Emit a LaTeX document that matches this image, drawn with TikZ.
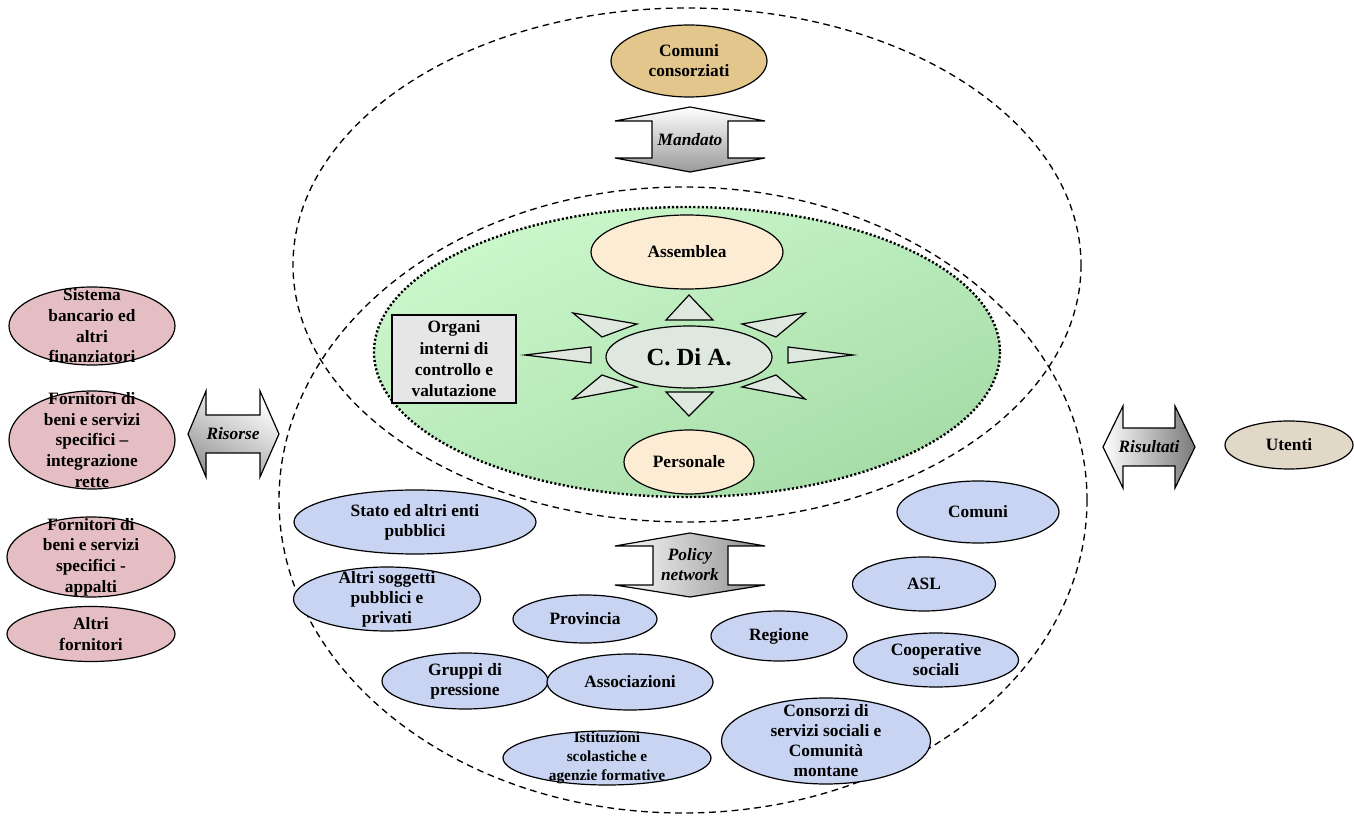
\documentclass[tikz,border=0pt]{standalone}
\usepackage{fontspec}
\setmainfont{Liberation Serif}
\usetikzlibrary{shapes.geometric}

\definecolor{pinkfill}{RGB}{229,190,195}
\definecolor{bluefill}{RGB}{200,212,242}
\definecolor{tanfill}{RGB}{226,198,140}
\definecolor{peachfill}{RGB}{253,236,212}
\definecolor{cdafill}{RGB}{222,232,222}
\definecolor{boxfill}{RGB}{230,230,230}
\definecolor{utfill}{RGB}{226,216,200}
\definecolor{grnlt}{RGB}{204,248,204}
\definecolor{grndk}{RGB}{166,220,168}

\tikzset{
  blob/.style={ellipse, draw, line width=0.9pt, inner sep=0pt},
  sz/.style 2 args={minimum width=#1*0.75pt, minimum height=#2*0.75pt},
  txt/.style={font=\bfseries\fontsize{13}{15}\selectfont, align=center, inner sep=0pt},
  pinktxt/.style={font=\bfseries\fontsize{13}{15.5}\selectfont, align=center, inner sep=0pt},
  arrlbl/.style={font=\bfseries\itshape\fontsize{13}{15}\selectfont, align=center, inner sep=0pt},
  ring/.style={draw, line width=1pt, dash pattern=on 5pt off 3.5pt},
  ray/.style={draw, line width=0.9pt, fill=cdafill},
  blockarr/.style={draw, line width=0.9pt}
}

\begin{document}
\begin{tikzpicture}[x=0.75pt, y=-0.75pt]
  \useasboundingbox (0,0) rectangle (1354,816);

  % the two dashed areas
  \draw[ring] (687,265) ellipse [x radius=394, y radius=257];
  \draw[ring] (683,500) ellipse [x radius=404, y radius=313];

  % green core
  \draw[line width=1.8pt, dash pattern=on 1.6pt off 1.6pt, top color=grnlt, bottom color=grndk, shading angle=25]
    (687,352) ellipse [x radius=313, y radius=145];

  % top: mandate
  \node[blob, fill=tanfill, sz={156}{72}] (comcons) at (689,61) {};
  \node[txt] (comcons-t) at (comcons) {Comuni\\consorziati};
  \draw[blockarr, top color=white, bottom color=gray!80]
    (690,107) -- (765,121) -- (728,121) -- (728,158) -- (765,158) -- (690,172)
    -- (615,158) -- (652,158) -- (652,121) -- (615,121) -- cycle;
  \node[arrlbl] (mandato) at (690,140) {Mandato};

  % governing bodies
  \node[blob, fill=peachfill, sz={192}{74}] (assemblea) at (687,252) {};
  \node[txt] (assemblea-t) at (assemblea) {Assemblea};
  \node[blob, fill=peachfill, sz={130}{64}] (personale) at (689,462) {};
  \node[txt] (personale-t) at (personale) {Personale};
  \node[draw, line width=1.5pt, fill=boxfill, sz={124}{88}, txt, font=\bfseries\fontsize{13}{16}\selectfont] (organi) at (454,359)
    {Organi\\interni di\\controllo e\\valutazione};

  % rays round the board
  \draw[ray] (689,295) -- (713,320) -- (666,320) -- cycle;
  \draw[ray] (666,392) -- (713,392) -- (689,416) -- cycle;
  \draw[ray] (525,355) -- (591,347) -- (591,363) -- cycle;
  \draw[ray] (853,355) -- (788,347) -- (788,363) -- cycle;
  \draw[ray] (573,313) -- (637,324) -- (602,337) -- cycle;
  \draw[ray] (805,313) -- (742,324) -- (776,337) -- cycle;
  \draw[ray] (573,399) -- (637,387) -- (602,375) -- cycle;
  \draw[ray] (805,399) -- (742,387) -- (776,375) -- cycle;
  \node[blob, fill=cdafill, sz={166}{62}] (cda) at (689,357) {};
  \node[txt, font=\bfseries\fontsize{18.5}{20}\selectfont] (cda-t) at (cda) {C. Di A.};

  % resources
  \node[blob, fill=pinkfill, sz={166}{78}] (banca) at (92,326) {};
  \node[pinktxt] (banca-t) at (banca) {Sistema\\bancario ed\\altri\\finanziatori};
  \node[blob, fill=pinkfill, sz={166}{98}] (rette) at (92,440) {};
  \node[pinktxt] (rette-t) at (rette) {Fornitori di\\beni e servizi\\specifici --\\integrazione\\rette};
  \node[blob, fill=pinkfill, sz={168}{80}] (appalti) at (91,557) {};
  \node[pinktxt] (appalti-t) at (appalti) {Fornitori di\\beni e servizi\\specifici -\\appalti};
  \node[blob, fill=pinkfill, sz={168}{55}] (altrifor) at (91,634) {};
  \node[pinktxt] (altrifor-t) at (altrifor) {Altri\\fornitori};
  \draw[blockarr, left color=white, right color=gray!80, shading angle=-30]
    (188,434) -- (206,391) -- (206,415) -- (260,415) -- (260,391) -- (279,434)
    -- (260,477) -- (260,453) -- (206,453) -- (206,477) -- cycle;
  \node[arrlbl] (risorse) at (233,434) {Risorse};

  % results
  \draw[blockarr, left color=white, right color=gray!95!black]
    (1103,447) -- (1123,406) -- (1123,428) -- (1175,428) -- (1175,406) -- (1195,447)
    -- (1175,488) -- (1175,466) -- (1123,466) -- (1123,488) -- cycle;
  \node[arrlbl] (risultati) at (1149,447) {Risultati};
  \node[blob, fill=utfill, sz={128}{48}] (utenti) at (1289,445) {};
  \node[txt] (utenti-t) at (utenti) {Utenti};

  % policy network
  \draw[blockarr, left color=white, right color=gray!90]
    (690,533) -- (765,546) -- (728,546) -- (728,585) -- (765,585) -- (690,597)
    -- (615,585) -- (653,585) -- (653,546) -- (615,546) -- cycle;
  \node[arrlbl] (policy) at (690,565) {Policy\\network};

  \node[blob, fill=bluefill, sz={242}{64}] (stato) at (415,522) {};
  \node[txt] (stato-t) at (stato) {Stato ed altri enti\\pubblici};
  \node[blob, fill=bluefill, sz={187}{64}] (altrisog) at (387,599) {};
  \node[txt] (altrisog-t) at (altrisog) {Altri soggetti\\pubblici e\\privati};
  \node[blob, fill=bluefill, sz={144}{48}] (provincia) at (585,619) {};
  \node[txt] (provincia-t) at (provincia) {Provincia};
  \node[blob, fill=bluefill, sz={166}{56}] (gruppi) at (465,681) {};
  \node[txt] (gruppi-t) at (gruppi) {Gruppi di\\pressione};
  \node[blob, fill=bluefill, sz={166}{56}] (assoc) at (630,682) {};
  \node[txt] (assoc-t) at (assoc) {Associazioni};
  \node[blob, fill=bluefill, sz={208}{54}] (istituz) at (607,758) {};
  \node[txt, font=\bfseries\fontsize{11.5}{14}\selectfont] (istituz-t) at (istituz) {Istituzioni\\scolastiche e\\agenzie formative};
  \node[blob, fill=bluefill, sz={162}{62}] (comuni) at (978,512) {};
  \node[txt] (comuni-t) at (comuni) {Comuni};
  \node[blob, fill=bluefill, sz={143}{54}] (asl) at (924,584) {};
  \node[txt] (asl-t) at (asl) {ASL};
  \node[blob, fill=bluefill, sz={136}{50}] (regione) at (779,636) {};
  \node[txt] (regione-t) at (regione) {Regione};
  \node[blob, fill=bluefill, sz={165}{54}] (coop) at (936,660) {};
  \node[txt] (coop-t) at (coop) {Cooperative\\sociali};
  \node[blob, fill=bluefill, sz={209}{86}] (consorzi) at (826,741) {};
  \node[txt] (consorzi-t) at (consorzi) {Consorzi di\\servizi sociali e\\Comunità\\montane};
\end{tikzpicture}
\end{document}
